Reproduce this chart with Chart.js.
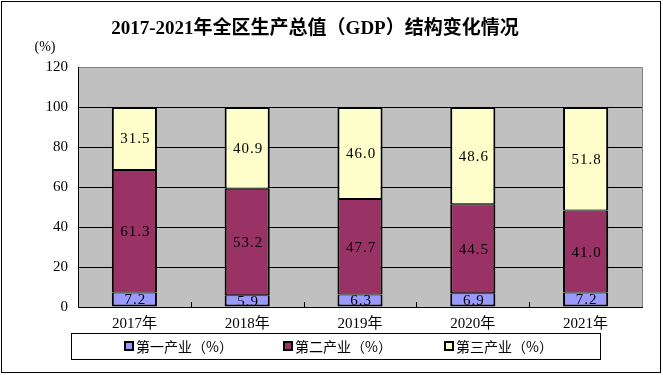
<!DOCTYPE html>
<html>
<head>
<meta charset="utf-8">
<script src="https://cdn.jsdelivr.net/npm/chart.js@4"></script>
<style>
  html, body { margin: 0; padding: 0; background: #fff; }
  canvas { display: block; }
</style>
</head>
<body>
<canvas id="gdpChart" width="663" height="375"></canvas>
<script>
// 数据
const years = ['2017年', '2018年', '2019年', '2020年', '2021年'];
const primary = [7.2, 5.9, 6.3, 6.9, 7.2];
const secondary = [61.3, 53.2, 47.7, 44.5, 41.0];
const tertiary = [31.5, 40.9, 46.0, 48.6, 51.8];
const seriesNames = ['第一产业（%）', '第二产业（%）', '第三产业（%）'];
const yTicks = [0, 20, 40, 60, 80, 100, 120];

const titleText = '2017-2021年全区生产总值（GDP）结构变化情况';
const unitText = '(%)';

const serif = '"Liberation Serif", "Noto Sans CJK SC", serif';
const cjk = '"Noto Sans CJK SC", "Liberation Serif", sans-serif';

// 背景、边框、标签、图例
const decorPlugin = {
    id: 'decor',
    beforeDraw(chart) {
        const ctx = chart.ctx;
        const a = chart.chartArea;
        ctx.save();
        ctx.fillStyle = '#fff';
        ctx.fillRect(0, 0, chart.width, chart.height);
        ctx.fillStyle = '#C0C0C0';
        ctx.fillRect(a.left, a.top, a.right - a.left, a.bottom - a.top);
        ctx.restore();
    },
    afterDatasetsDraw(chart) {
        const ctx = chart.ctx;
        const a = chart.chartArea;
        const xs = chart.scales.x;
        ctx.save();

        // 绘图区边框
        ctx.lineWidth = 1;
        ctx.strokeStyle = '#808080';
        ctx.beginPath();
        ctx.moveTo(a.left, a.top + 0.5);
        ctx.lineTo(a.right + 0.5, a.top + 0.5);
        ctx.lineTo(a.right + 0.5, a.bottom);
        ctx.stroke();
        ctx.strokeStyle = '#000';
        ctx.beginPath();
        ctx.moveTo(a.left + 0.5, a.top);
        ctx.lineTo(a.left + 0.5, a.bottom + 0.5);
        ctx.lineTo(a.right + 1, a.bottom + 0.5);
        ctx.stroke();

        // 类别间刻度线
        ctx.beginPath();
        for (let i = 0; i < years.length - 1; i++) {
            const x = Math.round((xs.getPixelForTick(i) + xs.getPixelForTick(i + 1)) / 2) + 0.5;
            ctx.moveTo(x, a.bottom);
            ctx.lineTo(x, a.bottom - 5);
        }
        ctx.stroke();

        // 数据标签
        ctx.font = '15px ' + serif;
        ctx.letterSpacing = '1px';
        ctx.fillStyle = '#000';
        ctx.textAlign = 'center';
        ctx.textBaseline = 'middle';
        chart.data.datasets.forEach((ds, di) => {
            chart.getDatasetMeta(di).data.forEach((bar, i) => {
                const p = bar.getProps(['x', 'y', 'base'], true);
                ctx.fillText(ds.data[i].toFixed(1), p.x + 1, (p.y + p.base) / 2 + 1);
            });
        });
        ctx.letterSpacing = '0px';

        // 标题
        ctx.font = 'bold 19px ' + serif;
        ctx.fillText(titleText, 315, 29);
        ctx.font = '14px ' + serif;
        ctx.fillText(unitText, 45, 47);

        // 图例
        ctx.strokeStyle = '#000';
        ctx.strokeRect(71.5, 333.5, 529, 26);
        const starts = [124, 283, 444];
        ctx.font = '14px ' + cjk;
        ctx.textAlign = 'left';
        chart.data.datasets.forEach((ds, di) => {
            const bx = starts[di];
            ctx.fillStyle = ds.backgroundColor;
            ctx.fillRect(bx, 341, 10, 10);
            ctx.lineWidth = 2;
            ctx.strokeRect(bx + 1, 342, 8, 8);
            ctx.lineWidth = 1;
            ctx.fillStyle = '#000';
            ctx.fillText(ds.label, bx + 12, 346.5);
        });

        // 外框
        ctx.strokeRect(1.5, 1.5, 659, 371);
        ctx.restore();
    }
};

const ctx = document.getElementById('gdpChart').getContext('2d');

new Chart(ctx, {
    type: 'bar',
    data: {
        labels: years,
        datasets: [
            { label: seriesNames[0], data: primary, backgroundColor: '#9999FF',
              borderWidth: { top: 1, bottom: 2, left: 2, right: 2 } },
            { label: seriesNames[1], data: secondary, backgroundColor: '#993366',
              borderWidth: { top: 1, bottom: 1, left: 2, right: 2 } },
            { label: seriesNames[2], data: tertiary, backgroundColor: '#FFFFCC',
              borderWidth: { top: 2, bottom: 1, left: 2, right: 2 } }
        ].map(d => Object.assign(d, {
            borderColor: '#000',
            borderSkipped: false,
            barPercentage: 0.8,
            categoryPercentage: 0.5
        }))
    },
    options: {
        responsive: false,
        devicePixelRatio: 1,
        animation: false,
        layout: { padding: { left: 0, top: 67, right: 21, bottom: 38 } },
        plugins: {
            legend: { display: false },
            title: { display: false },
            tooltip: { enabled: false }
        },
        scales: {
            x: {
                stacked: true,
                grid: { display: false, drawTicks: false },
                border: { display: false },
                ticks: {
                    color: '#000',
                    font: { size: 15, family: serif },
                    padding: 8,
                    maxRotation: 0
                },
                afterFit(scale) { scale.height = 30; }
            },
            y: {
                stacked: true,
                min: 0,
                max: 120,
                afterBuildTicks(scale) {
                    scale.ticks = yTicks.map(v => ({ value: v }));
                },
                grid: {
                    drawTicks: false,
                    color: c => (c.tick && c.tick.value > 0 && c.tick.value < 120) ? '#000' : 'rgba(0,0,0,0)',
                    lineWidth: 1
                },
                border: { display: false },
                ticks: {
                    color: '#000',
                    font: { size: 15, family: serif },
                    padding: 10
                },
                afterFit(scale) { scale.width = 78; }
            }
        }
    },
    plugins: [decorPlugin]
});
</script>
</body>
</html>
